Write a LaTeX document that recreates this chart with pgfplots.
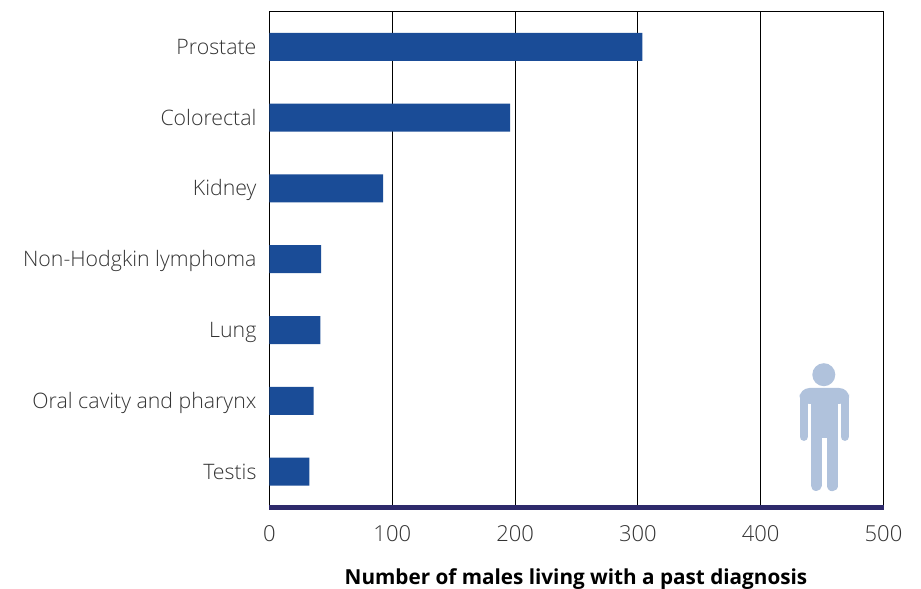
\documentclass[border=0pt]{standalone}
\usepackage{fontspec}
\setmainfont{Open Sans}[UprightFont=* Light,BoldFont=* Bold]
\usepackage{pgfplots}
\pgfplotsset{compat=1.18}
\definecolor{barblue}{HTML}{1A4C97}
\definecolor{navy}{HTML}{2E2A6B}
\definecolor{figure}{HTML}{B0C2DC}
\definecolor{labelgray}{HTML}{333333}
\begin{document}
\begin{tikzpicture}
% bounding box in reference pixels, 1 px = 0.5 pt
\useasboundingbox (-134.75pt,-41pt) rectangle (325.75pt,253.5pt);
\begin{axis}[
    at={(0,0)}, anchor=south west,
    scale only axis, width=307pt, height=247.75pt,
    xmin=0, xmax=500, ymin=-0.5, ymax=6.5,
    clip=false,
    xbar, bar width=14pt, bar shift=0pt,
    xtick={0,100,200,300,400,500},
    ytick={0,1,2,3,4,5,6},
    yticklabels={Testis,Oral cavity and pharynx,Lung,Non-Hodgkin lymphoma,Kidney,Colorectal,Prostate},
    major tick length=0pt,
    xmajorgrids,
    grid style={black,line width=0.5pt},
    axis line style={black,line width=0.5pt},
    tick label style={text=labelgray},
    /pgf/number format/assume math mode=true,
    xticklabel style={font=\fontsize{11}{13}\selectfont,yshift=-5.5pt},
    yticklabel style={font=\fontsize{10.65}{13}\selectfont,xshift=-3pt,yshift=-1pt,text height=8pt,text depth=2.5pt},
    xlabel={\textbf{Number of males living with a past diagnosis}},
    xlabel style={font=\fontsize{10.35}{13}\selectfont,text=black,at={(axis description cs:0.5,0)},anchor=center,yshift=-36pt,xshift=-0.25pt},
]
\addplot[draw=none,fill=barblue] coordinates {
    (32.5,0) (36,1) (41.5,2) (42,3) (92.6,4) (196,5) (303.7,6)
};
\draw[navy,line width=2.5pt] (axis cs:0,-0.5) -- (axis cs:500,-0.5);
\end{axis}
% man pictogram, reference pixel coordinates
\begin{scope}[x=0.5pt,y=-0.5pt,shift={(-269,-507)}]
\fill[figure] (823.3,374.7) circle (11.5);
\fill[figure,rounded corners=5pt] (799,404) -- (799,388) -- (848.7,388) -- (848.7,404) -- cycle;
\fill[figure] (810,395) rectangle (837.7,438);
\draw[figure,line cap=round,line width=4.35pt] (803.35,398) -- (803.35,436.6);
\draw[figure,line cap=round,line width=4.35pt] (844.35,398) -- (844.35,436.6);
\draw[figure,line cap=round,line width=5.5pt] (815.5,430) -- (815.5,485.5);
\draw[figure,line cap=round,line width=5.75pt] (831.9,430) -- (831.9,485.5);
\end{scope}
\end{tikzpicture}
\end{document}
